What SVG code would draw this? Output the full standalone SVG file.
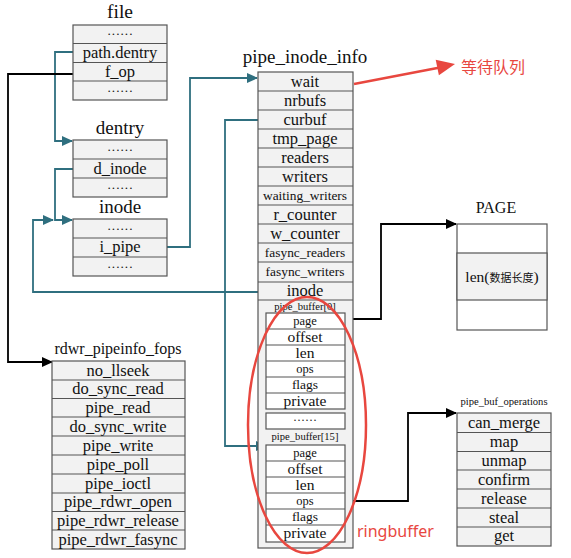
<svg xmlns="http://www.w3.org/2000/svg" width="571" height="558" viewBox="0 0 571 558">
<style>
.box{fill:#f2f2f2;stroke:#555;stroke-width:1.2}
.wbox{fill:#fff;stroke:#555;stroke-width:1.2}
.sep{stroke:#555;stroke-width:1.2}
text{font-family:"Liberation Serif","Times New Roman",serif;fill:#111;text-anchor:middle}
.t{font-size:16.5px}
.d{font-size:13px}
.s{font-size:13.4px}
.xs{font-size:10.6px}
.ttl{font-size:19px}
.tc{fill:none;stroke:#2f6f7f;stroke-width:1.8}
.bk{fill:none;stroke:#000;stroke-width:1.8}
.red{fill:#e8473f;font-family:"Noto Sans","Noto Sans CJK SC",sans-serif;text-anchor:start;font-size:16px}
</style>
<defs>
<marker id="at" markerWidth="11" markerHeight="10" refX="10" refY="5" orient="auto" markerUnits="userSpaceOnUse"><path d="M0,0 L11,5 L0,10 Z" fill="#2f6f7f"/></marker>
<marker id="ab" markerWidth="11" markerHeight="10" refX="10" refY="5" orient="auto" markerUnits="userSpaceOnUse"><path d="M0,0 L11,5 L0,10 Z" fill="#000"/></marker>
</defs>

<g id="connectors">
<polyline class="tc" points="73,52 55,52 55,141 72,141" marker-end="url(#at)"/>
<polyline class="tc" points="73,169 55,169 55,220 72,220" marker-end="url(#at)"/>
<polyline class="tc" points="258,292 33,292 33,220 53,220" marker-end="url(#at)"/>
<polyline class="tc" points="167,247 190,247 190,78 257,78" marker-end="url(#at)"/>
<polyline class="tc" points="258,120 225,120 225,446 266,446" marker-end="url(#at)"/>
<polyline class="bk" points="73,74 8,74 8,362 52,362" marker-end="url(#ab)"/>
<polyline class="bk" points="345,319 381,319 381,224 456,224" marker-end="url(#ab)"/>
<polyline class="bk" points="345,501 408,501 408,413 456,413" marker-end="url(#ab)"/>
</g>

<g id="file">
<text class="ttl" x="120" y="18" style="font-size:19.5px">file</text>
<rect class="box" x="73" y="25" width="94" height="75"/>
<line class="sep" x1="73" y1="43.5" x2="167" y2="43.5"/>
<line class="sep" x1="73" y1="62.5" x2="167" y2="62.5"/>
<line class="sep" x1="73" y1="81" x2="167" y2="81"/>
<text class="d" x="120" y="38">······</text>
<text class="t" x="120" y="58">path.dentry</text>
<text class="t" x="120" y="77">f_op</text>
<text class="d" x="120" y="94.5">······</text>
</g>

<g id="dentry">
<text class="ttl" x="120" y="134">dentry</text>
<rect class="box" x="73" y="140" width="94" height="57"/>
<line class="sep" x1="73" y1="159" x2="167" y2="159"/>
<line class="sep" x1="73" y1="178" x2="167" y2="178"/>
<text class="d" x="120" y="153.5">······</text>
<text class="t" x="120" y="174">d_inode</text>
<text class="d" x="120" y="191.5">······</text>
</g>

<g id="inode">
<text class="ttl" x="120" y="213">inode</text>
<rect class="box" x="73" y="219" width="94" height="57"/>
<line class="sep" x1="73" y1="238" x2="167" y2="238"/>
<line class="sep" x1="73" y1="257" x2="167" y2="257"/>
<text class="d" x="120" y="232.5">······</text>
<text class="t" x="120" y="252">i_pipe</text>
<text class="d" x="120" y="270.5">······</text>
</g>

<g id="pipe_inode_info">
<text class="ttl" x="305" y="63">pipe_inode_info</text>
<rect class="box" x="258" y="72" width="95" height="476"/>
<line class="sep" x1="258" y1="91" x2="353" y2="91"/>
<line class="sep" x1="258" y1="110" x2="353" y2="110"/>
<line class="sep" x1="258" y1="129" x2="353" y2="129"/>
<line class="sep" x1="258" y1="148" x2="353" y2="148"/>
<line class="sep" x1="258" y1="167" x2="353" y2="167"/>
<line class="sep" x1="258" y1="186" x2="353" y2="186"/>
<line class="sep" x1="258" y1="205" x2="353" y2="205"/>
<line class="sep" x1="258" y1="224" x2="353" y2="224"/>
<line class="sep" x1="258" y1="243" x2="353" y2="243"/>
<line class="sep" x1="258" y1="262" x2="353" y2="262"/>
<line class="sep" x1="258" y1="282" x2="353" y2="282"/>
<line class="sep" x1="258" y1="300" x2="353" y2="300"/>
<text class="t" x="305" y="87">wait</text>
<text class="t" x="305" y="106">nrbufs</text>
<text class="t" x="305" y="125">curbuf</text>
<text class="t" x="305" y="144">tmp_page</text>
<text class="t" x="305" y="163">readers</text>
<text class="t" x="305" y="182">writers</text>
<text class="s" x="305" y="200">waiting_writers</text>
<text class="t" x="305" y="220">r_counter</text>
<text class="t" x="305" y="239">w_counter</text>
<text class="s" x="305" y="257">fasync_readers</text>
<text class="s" x="305" y="276">fasync_writers</text>
<text class="t" x="305" y="296">inode</text>
<text class="xs" x="305" y="310">pipe_buffer[0]</text>
<rect class="wbox" x="266" y="313" width="79" height="96"/>
<line class="sep" x1="266" y1="329" x2="345" y2="329"/>
<line class="sep" x1="266" y1="345" x2="345" y2="345"/>
<line class="sep" x1="266" y1="361" x2="345" y2="361"/>
<line class="sep" x1="266" y1="377" x2="345" y2="377"/>
<line class="sep" x1="266" y1="393" x2="345" y2="393"/>
<text x="305" y="325" style="font-size:12.5px">page</text>
<text x="305" y="341.5" style="font-size:15.5px">offset</text>
<text x="305" y="357.5" style="font-size:15.5px">len</text>
<text x="305" y="373" style="font-size:12.5px">ops</text>
<text x="305" y="389" style="font-size:13.5px">flags</text>
<text x="305" y="405.5" style="font-size:15.5px">private</text>
<rect class="wbox" x="266" y="413" width="79" height="16"/>
<text x="305" y="424" style="font-size:12px">······</text>
<text class="xs" x="305" y="440">pipe_buffer[15]</text>
<rect class="wbox" x="266" y="445" width="79" height="97"/>
<line class="sep" x1="266" y1="461" x2="345" y2="461"/>
<line class="sep" x1="266" y1="477" x2="345" y2="477"/>
<line class="sep" x1="266" y1="493" x2="345" y2="493"/>
<line class="sep" x1="266" y1="509" x2="345" y2="509"/>
<line class="sep" x1="266" y1="525" x2="345" y2="525"/>
<text x="305" y="457" style="font-size:12.5px">page</text>
<text x="305" y="473.5" style="font-size:15.5px">offset</text>
<text x="305" y="489.5" style="font-size:15.5px">len</text>
<text x="305" y="505" style="font-size:12.5px">ops</text>
<text x="305" y="521" style="font-size:13.5px">flags</text>
<text x="305" y="538" style="font-size:15.5px">private</text>
</g>

<g id="rdwr_pipeinfo_fops">
<text x="118" y="354" style="font-size:16px">rdwr_pipeinfo_fops</text>
<rect class="box" x="52" y="361" width="133" height="188"/>
<line class="sep" x1="52" y1="380" x2="185" y2="380"/>
<line class="sep" x1="52" y1="398.5" x2="185" y2="398.5"/>
<line class="sep" x1="52" y1="417" x2="185" y2="417"/>
<line class="sep" x1="52" y1="436" x2="185" y2="436"/>
<line class="sep" x1="52" y1="455" x2="185" y2="455"/>
<line class="sep" x1="52" y1="474" x2="185" y2="474"/>
<line class="sep" x1="52" y1="493" x2="185" y2="493"/>
<line class="sep" x1="52" y1="511.5" x2="185" y2="511.5"/>
<line class="sep" x1="52" y1="530" x2="185" y2="530"/>
<text class="t" x="118" y="376">no_llseek</text>
<text class="t" x="118" y="394">do_sync_read</text>
<text class="t" x="118" y="413">pipe_read</text>
<text class="t" x="118" y="432">do_sync_write</text>
<text class="t" x="118" y="451">pipe_write</text>
<text class="t" x="118" y="470">pipe_poll</text>
<text class="t" x="118" y="489">pipe_ioctl</text>
<text class="t" x="118" y="507">pipe_rdwr_open</text>
<text class="t" x="118" y="526">pipe_rdwr_release</text>
<text class="t" x="118" y="545">pipe_rdwr_fasync</text>
</g>

<g id="PAGE">
<text x="496" y="213" style="font-size:16px">PAGE</text>
<rect class="wbox" x="457" y="224" width="90" height="106"/>
<rect class="box" x="457" y="253" width="90" height="47"/>
<text x="502" y="282"><tspan style="font-size:15.5px">len(</tspan><tspan style="font-size:11px;font-family:'Noto Sans CJK SC',serif">数据长度</tspan><tspan style="font-size:15.5px">)</tspan></text>
</g>

<g id="pipe_buf_operations">
<text x="504" y="405" style="font-size:10.6px">pipe_buf_operations</text>
<rect class="box" x="457" y="413" width="94" height="133"/>
<line class="sep" x1="457" y1="432.5" x2="551" y2="432.5"/>
<line class="sep" x1="457" y1="451.5" x2="551" y2="451.5"/>
<line class="sep" x1="457" y1="470" x2="551" y2="470"/>
<line class="sep" x1="457" y1="489" x2="551" y2="489"/>
<line class="sep" x1="457" y1="508" x2="551" y2="508"/>
<line class="sep" x1="457" y1="527" x2="551" y2="527"/>
<text class="t" x="504" y="428">can_merge</text>
<text class="t" x="504" y="447">map</text>
<text class="t" x="504" y="466">unmap</text>
<text class="t" x="504" y="485">confirm</text>
<text class="t" x="504" y="504">release</text>
<text class="t" x="504" y="523">steal</text>
<text class="t" x="504" y="541">get</text>
</g>

<g id="annotations">
<line x1="354" y1="84" x2="440" y2="67.5" stroke="#e8473f" stroke-width="2.5"/>
<polygon points="455,64 435.7,59.7 438.9,75.3" fill="#e8473f"/>
<text class="red" x="461" y="73" style="font-family:'Noto Sans CJK SC',sans-serif">等待队列</text>
<ellipse cx="307" cy="425" rx="59" ry="128" fill="none" stroke="#e8473f" stroke-width="2.5"/>
<text class="red" x="357" y="537">ringbuffer</text>
</g>
</svg>
